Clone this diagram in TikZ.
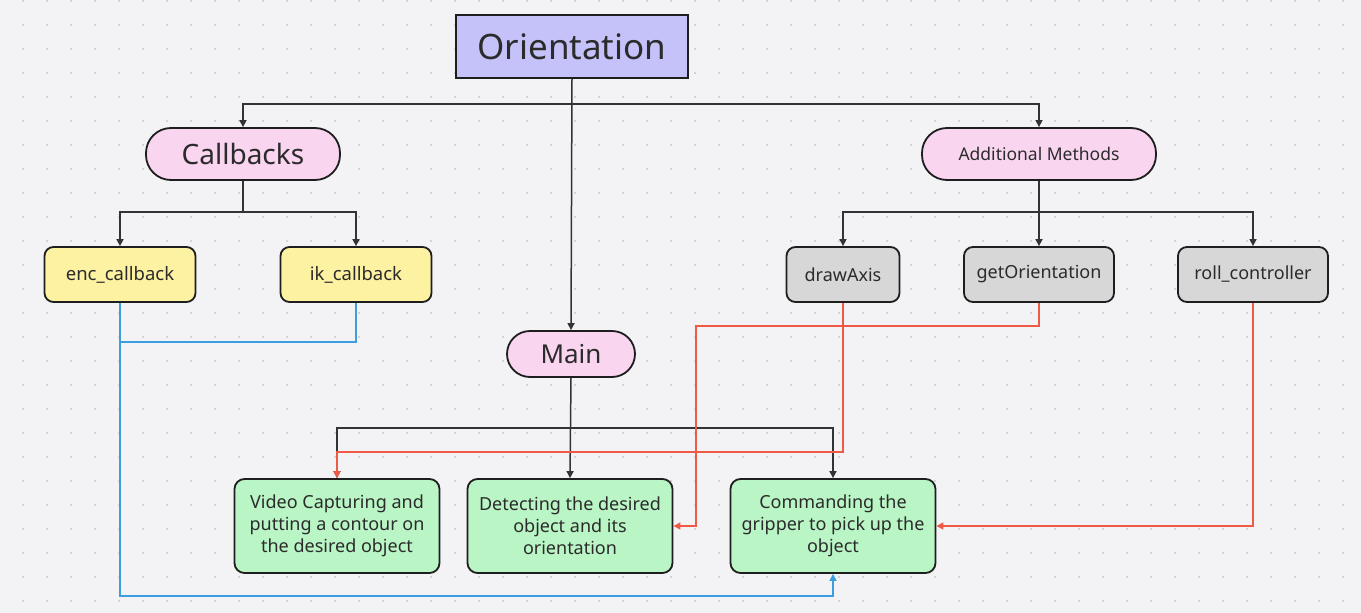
\documentclass[tikz,border=0pt]{standalone}
\usepackage{fontspec}
\setmainfont{Noto Sans}
\usetikzlibrary{arrows.meta}
\definecolor{bg}{HTML}{F3F3F6}
\definecolor{dotc}{HTML}{C9C9CE}
\definecolor{lav}{HTML}{C5C2FA}
\definecolor{pinkf}{HTML}{F9D5F0}
\definecolor{yel}{HTML}{FDF2A2}
\definecolor{grayf}{HTML}{D7D7D7}
\definecolor{grn}{HTML}{BAF5C6}
\definecolor{txt}{HTML}{2B2B2B}
\definecolor{edge}{HTML}{1E1E1E}
\definecolor{lnk}{HTML}{333333}
\definecolor{rd}{HTML}{EF5A47}
\definecolor{bl}{HTML}{3A9EE0}
\begin{document}
\begin{tikzpicture}[x=1pt,y=-1pt,
  base/.style={draw=edge, line width=1.8pt, inner sep=0pt, text=txt, align=center},
  titlebox/.style={base, rectangle, fill=lav, minimum width=232pt, minimum height=63pt, font=\fontsize{35}{40}\selectfont},
  pill/.style={base, rectangle, rounded corners=25pt, fill=pinkf},
  yelbox/.style={base, rectangle, rounded corners=9pt, fill=yel, minimum width=151pt, minimum height=55pt, font=\fontsize{18.5}{20}\selectfont},
  graybox/.style={base, rectangle, rounded corners=9pt, fill=grayf, minimum height=55pt, font=\fontsize{18}{20}\selectfont},
  grnbox/.style={base, rectangle, rounded corners=10pt, fill=grn, minimum width=205pt, minimum height=94pt, font=\fontsize{18}{22}\selectfont},
  blkarr/.style={draw=lnk, line width=1.5pt, -{Triangle[length=7pt,width=7pt]}},
  blkln/.style={draw=lnk, line width=1.5pt},
  redarr/.style={draw=rd, line width=1.5pt, -{Triangle[length=7pt,width=7pt]}},
  bluarr/.style={draw=bl, line width=1.5pt, -{Triangle[length=7pt,width=7pt]}},
  bluln/.style={draw=bl, line width=1.5pt}
]
\fill[bg] (0,0) rectangle (1361,613);
\useasboundingbox (0,0) rectangle (1361,613);
\foreach \i in {0,...,56}{
  \foreach \j in {0,...,25}{
    \fill[dotc] ({23+24*\i},{1+24*\j}) circle (1.1pt);
  }
}

% nodes
\node[titlebox] (ori) at (572,46.5) {Orientation};
\node[pill, minimum width=194pt, minimum height=52pt, font=\fontsize{28}{32}\selectfont] (cb) at (243,154) {Callbacks};
\node[pill, minimum width=234pt, minimum height=52pt, font=\fontsize{17.5}{20}\selectfont] (am) at (1039,154) {Additional Methods};
\node[pill, rounded corners=23pt, minimum width=128pt, minimum height=46pt, font=\fontsize{26}{30}\selectfont] (main) at (571,354) {Main};

\node[yelbox] (enc) at (120,274.5) {enc\_callback};
\node[yelbox] (ik) at (356,274.5) {ik\_callback};

\node[graybox, minimum width=113pt] (da) at (843,274.5) {drawAxis};
\node[graybox, minimum width=150pt] (go) at (1039,274.5) {getOrientation};
\node[graybox, minimum width=150pt] (rc) at (1253,274.5) {roll\_controller};

\node[grnbox] (vid) at (337,526) {Video Capturing and\\putting a contour on\\the desired object};
\node[grnbox] (det) at (570,526) {Detecting the desired\\object and its\\orientation};
\node[grnbox] (cmd) at (833,526) {Commanding the\\gripper to pick up the\\object};

% junction coordinates
\coordinate (j1) at (572,104);
\coordinate (j2) at (243,212);
\coordinate (j3) at (1039,212);
\coordinate (j4) at (571,428);
\coordinate (b1) at (120,342);
\coordinate (b2) at (500,596);
\coordinate (r1) at (600,452);
\coordinate (r2) at (696,326);

% black connectors
\draw[blkarr] (ori.south) -- (main.north);
\draw[blkarr] (j1) -| (cb.north);
\draw[blkarr] (j1) -| (am.north);
\draw[blkln] (cb.south) -- (j2);
\draw[blkarr] (j2) -| (enc.north);
\draw[blkarr] (j2) -| (ik.north);
\draw[blkarr] (am.south) -- (go.north);
\draw[blkarr] (j3) -| (da.north);
\draw[blkarr] (j3) -| (rc.north);
\draw[blkarr] (main.south) -- (det.north);
\draw[blkarr] (j4) -| (vid.north);
\draw[blkarr] (j4) -| (cmd.north);

% blue connectors
\draw[bluln] (ik.south) |- (b1);
\draw[bluarr] (enc.south) |- (b2) -| (cmd.south);

% red connectors
\draw[redarr] (da.south) |- (r1) -| (vid.north);
\draw[redarr] (go.south) |- (r2) |- (det.east);
\draw[redarr] (rc.south) |- (cmd.east);
\end{tikzpicture}
\end{document}
